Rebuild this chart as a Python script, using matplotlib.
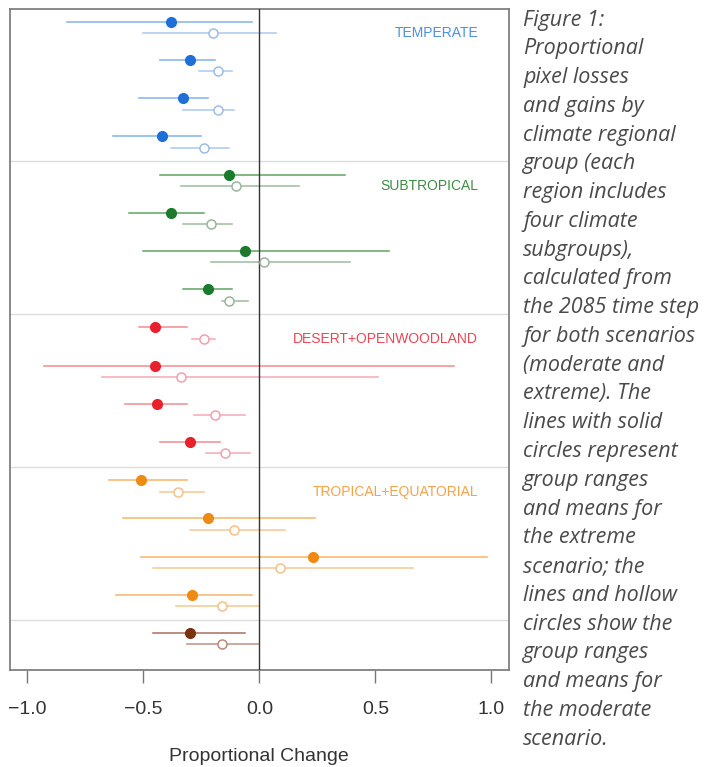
import numpy as np
import matplotlib
matplotlib.use("Agg")
import matplotlib.pyplot as plt

# regional groups (4 subgroups each, plus one extra row at the bottom)
groups = ["TEMPERATE", "SUBTROPICAL", "DESERT+OPENWOODLAND", "TROPICAL+EQUATORIAL", ""]
row_group = [0, 0, 0, 0, 1, 1, 1, 1, 2, 2, 2, 2, 3, 3, 3, 3, 4]

# extreme scenario: range and mean
ext_lo = [-0.83, -0.43, -0.52, -0.63, -0.43, -0.56, -0.50, -0.33,
          -0.52, -0.93, -0.58, -0.43, -0.65, -0.59, -0.51, -0.62, -0.46]
ext_hi = [-0.03, -0.19, -0.22, -0.25, 0.37, -0.24, 0.56, -0.12,
          -0.31, 0.84, -0.31, -0.17, -0.31, 0.24, 0.98, -0.03, -0.06]
ext_mean = [-0.38, -0.30, -0.33, -0.42, -0.13, -0.38, -0.06, -0.22,
            -0.45, -0.45, -0.44, -0.30, -0.51, -0.22, 0.23, -0.29, -0.30]

# moderate scenario: range and mean
mod_lo = [-0.50, -0.26, -0.33, -0.38, -0.34, -0.33, -0.21, -0.16,
          -0.29, -0.68, -0.28, -0.23, -0.43, -0.30, -0.46, -0.36, -0.31]
mod_hi = [0.07, -0.12, -0.11, -0.13, 0.17, -0.12, 0.39, -0.05,
          -0.19, 0.51, -0.06, -0.04, -0.24, 0.11, 0.66, 0.00, 0.00]
mod_mean = [-0.20, -0.18, -0.18, -0.24, -0.10, -0.21, 0.02, -0.13,
            -0.24, -0.34, -0.19, -0.15, -0.35, -0.11, 0.09, -0.16, -0.16]

caption = ("Figure 1:\nProportional\npixel losses\nand gains by\nclimate regional\n"
           "group (each\nregion includes\nfour climate\nsubgroups),\ncalculated from\n"
           "the 2085 time step\nfor both scenarios\n(moderate and\nextreme). The\n"
           "lines with solid\ncircles represent\ngroup ranges\nand means for\n"
           "the extreme\nscenario; the\nlines and hollow\ncircles show the\n"
           "group ranges\nand means for\nthe moderate\nscenario.")

# colours per group: marker, extreme line, moderate line, label
marker_c = ["#1f6fd8", "#1b7a2b", "#e8212c", "#ef8a12", "#7a3312"]
ext_line_c = ["#80b2ea", "#5ea463", "#f28b92", "#f6b468", "#a8705c"]
mod_line_c = ["#a9c9ef", "#9dbb9f", "#f4a9b7", "#f7c792", "#bf9283"]
mod_edge_c = ["#9dbde6", "#9cb49c", "#f0a0b0", "#f5c08a", "#b88a7c"]
label_c = ["#4a90e2", "#3d8c45", "#ea4655", "#f5a247"]

fig = plt.figure(figsize=(7.11, 7.67), dpi=100)
ax = fig.add_axes([0.0134, 0.1265, 0.7026, 0.8614])

off = 0.3
for i in range(len(ext_mean)):
    g = row_group[i]
    ax.plot([ext_lo[i], ext_hi[i]], [i, i], color=ext_line_c[g], lw=1.1, zorder=2)
    ax.plot(ext_mean[i], i, "o", ms=7, color=marker_c[g], mec=marker_c[g], zorder=4)
    ax.plot([mod_lo[i], mod_hi[i]], [i + off, i + off], color=mod_line_c[g], lw=1.1, zorder=2)
    ax.plot(mod_mean[i], i + off, "o", ms=6.5, mfc="white", mec=mod_edge_c[g], mew=1.1, zorder=4)

for k in range(4):
    ax.axhline(3.65 + 4 * k, color="#dcdcdc", lw=1, zorder=1)
    ax.text(0.943, 4 * k + off, groups[k], ha="right", va="center",
            color=label_c[k], fontsize=10, family="Liberation Sans")

ax.axvline(0, color="#333333", lw=1, zorder=3)

ax.set_xlim(-1.077, 1.076)
ax.set_ylim(16.97, -0.325)
ax.set_yticks([])
ax.set_xticks([-1.0, -0.5, 0.0, 0.5, 1.0])
ax.set_xticklabels(["\u22121.0", "\u22120.5", "0.0", "0.5", "1.0"],
                   family="Liberation Sans", fontsize=14, color="#333333")
ax.tick_params(axis="x", length=9, width=1, color="#777777", pad=13)
for s in ax.spines.values():
    s.set_color("#808080")
    s.set_linewidth(1.3)
ax.set_xlabel("Proportional Change", family="Liberation Sans", fontsize=14,
              color="#333333", labelpad=22)

fig.text(0.7356, 0.9875, caption, ha="left", va="top", style="italic",
         family="Open Sans", fontsize=15.5, color="#4a4a4a", linespacing=1.485)

fig.savefig("out.png", dpi=100)
